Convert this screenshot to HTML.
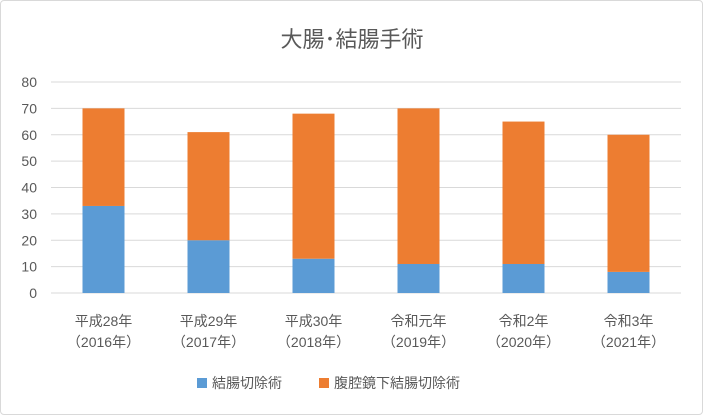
<!DOCTYPE html>
<html><head><meta charset="utf-8"><style>
html,body{margin:0;padding:0;background:#fff;}
#wrap{position:relative;width:703px;height:415px;overflow:hidden;border:1px solid #d9d9d9;box-sizing:border-box;border-radius:4px;}
svg text{font-family:"Liberation Sans","Noto Sans CJK JP",sans-serif;}
</style></head><body>
<div id="wrap">
<svg id="chart" width="703" height="415">
<text x="351" y="46" text-anchor="middle" font-size="22" fill="#595959">大腸･結腸手術</text>
<g id="grid"></g>
<g id="yticks"></g>
<g id="bars"></g>
<g id="xlabels"></g>
<g>
<g><rect x="196" y="377" width="10" height="10" fill="#5B9BD5"/><text x="211" y="387" font-size="14" fill="#595959">結腸切除術</text></g>
<g><rect x="318" y="377" width="10" height="10" fill="#ED7D31"/><text x="333" y="387" font-size="14" fill="#595959">腹腔鏡下結腸切除術</text></g>
</g>
</svg>
</div>
<script>
const categories = ["平成28年|（2016年）","平成29年|（2017年）","平成30年|（2018年）","令和元年|（2019年）","令和2年|（2020年）","令和3年|（2021年）"];
const openValues = [33, 20, 13, 11, 11, 8];
const lapValues = [37, 41, 55, 59, 54, 52];
const yTicks = [0,10,20,30,40,50,60,70,80];
const NS="http://www.w3.org/2000/svg";
const x0=50,x1=680,yBase=292,yTop=81,yMax=80;
const y=v=>yBase-(v/yMax)*(yBase-yTop);
const band=(x1-x0)/categories.length;
const xc=i=>x0+band*(i+0.5);
const bw=42;
function mk(tag,attrs,parent){const e=document.createElementNS(NS,tag);for(const k in attrs)e.setAttribute(k,attrs[k]);parent.appendChild(e);return e;}
const grid=document.getElementById('grid'),yt=document.getElementById('yticks'),bars=document.getElementById('bars'),xl=document.getElementById('xlabels');
yTicks.forEach(t=>{
  const l=mk('line',{x1:x0,x2:x1,y1:y(t),y2:y(t),stroke:'#d9d9d9','stroke-width':1},grid);
  
  
  const tx=mk('text',{x:36,y:y(t)+5,'text-anchor':'end','font-size':14,fill:'#595959'},yt);
  tx.textContent=t;
  
  
});
categories.forEach((c,i)=>{
  const a=openValues[i],b=lapValues[i];
  const r1=mk('rect',{x:xc(i)-bw/2,y:y(a),width:bw,height:yBase-y(a),fill:'#5B9BD5'},bars);
  
  
  const r2=mk('rect',{x:xc(i)-bw/2,y:y(a+b),width:bw,height:y(a)-y(a+b),fill:'#ED7D31'},bars);
  
  
  const parts=c.split('|');
  parts.forEach((p,j)=>{
    const t=mk('text',{x:xc(i),y:325+j*21,'text-anchor':'middle','font-size':14,fill:'#595959'},xl);
    t.textContent=p;
    
    
  });
});
</script>
</body></html>
